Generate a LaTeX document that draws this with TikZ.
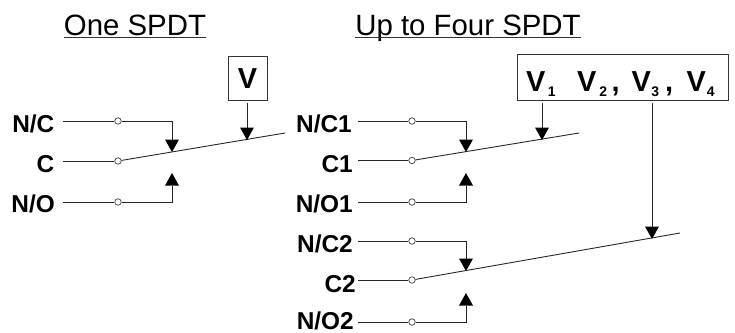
\documentclass[tikz,border=0pt]{standalone}
\usepackage{fontspec}
\setmainfont{Liberation Sans}
\usetikzlibrary{arrows.meta}
\tikzset{
  wire/.style={draw=black!85,line width=0.9bp},
  tip/.style={wire,-{Triangle[length=12.5bp,width=14bp,fill=black,line width=0pt]}},
  term/.style={circle,draw=black!75,fill=white,line width=0.7bp,minimum size=6.5bp,inner sep=0pt},
  lab/.style={anchor=base east,inner sep=0pt,font=\fontsize{24.5}{25}\selectfont\bfseries},
  ttl/.style={anchor=base,inner sep=0pt,font=\fontsize{29.5}{30}\selectfont},
  uline/.style={draw=black!80,line width=1.4bp},
  vbox/.style={draw=black!80,line width=0.9bp,inner sep=0pt},
  vtext/.style={inner sep=0pt,anchor=base west,font=\fontsize{29}{29}\selectfont\bfseries}
}
\newcommand{\subd}[1]{\raisebox{-5.5bp}{\fontsize{14}{14}\selectfont\bfseries #1}}
\begin{document}
\begin{tikzpicture}[x=1bp,y=-1bp]
\useasboundingbox (0,0) rectangle (735,332);
% titles
\node[ttl] (t1) at (135,35.5) {One SPDT};
\node[ttl] (t2) at (468,35.5) {Up to Four SPDT};
\draw[uline] ([yshift=-2.2bp]t1.base west) -- ([yshift=-2.2bp]t1.base east);
\draw[uline] ([yshift=-2.2bp]t2.base west) -- ([yshift=-2.2bp]t2.base east);
% left switch
\node[vbox,minimum width=39bp,minimum height=44bp] (v) at (247.5,78) {};
\node[vtext,anchor=base] (vl) at (247.5,88) {V};
\node[lab] (nc) at (54.5,132) {N/C};
\node[lab] (c) at (54.5,172) {C};
\node[lab] (no) at (55,212) {N/O};
\coordinate (ncs) at (63,121);
\coordinate (cs) at (63,161);
\coordinate (nos) at (63,202);
\node[term] (tnc) at (118,121) {};
\node[term] (tc) at (118,161) {};
\node[term] (tno) at (118,202) {};
\coordinate (ncc) at (172,121);
\coordinate (ncp) at (172,152);
\coordinate (noc) at (172,202);
\coordinate (nop) at (172,173);
\coordinate (lend) at (285,133);
\coordinate (vs) at (247,103);
\coordinate (vp) at (247,140);
\draw[wire] (ncs) -- (tnc);
\draw[wire] (cs) -- (tc);
\draw[wire] (nos) -- (tno);
\draw[tip] (tnc) -- (ncc) -- (ncp);
\draw[tip] (tno) -- (noc) -- (nop);
\draw[wire] (tc) -- (lend);
\draw[tip] (vs) -- (vp);
% right box
\node[vbox,minimum width=210.5bp,minimum height=46bp] (vv) at (622.7,77) {};
\node[vtext] (v1) at (526,91) {V\hspace{2.5bp}\subd{1}};
\node[vtext] (v2) at (577,91) {V\hspace{3bp}\subd{2}\hspace{4.5bp},};
\node[vtext] (v3) at (631.5,91) {V\hspace{0.5bp}\subd{3}\hspace{6bp},};
\node[vtext] (v4) at (686.5,91) {V\hspace{1bp}\subd{4}};
% switch 1
\node[lab] (nc1) at (352,132) {N/C1};
\node[lab] (c1) at (353,172) {C1};
\node[lab] (no1) at (353,212) {N/O1};
\coordinate (nc1s) at (358,121);
\coordinate (c1s) at (358,160.5);
\coordinate (no1s) at (358,202);
\node[term] (tnc1) at (412,121) {};
\node[term] (tc1) at (412,160.5) {};
\node[term] (tno1) at (412,202) {};
\coordinate (nc1c) at (466,121);
\coordinate (nc1p) at (466,152);
\coordinate (no1c) at (466,202);
\coordinate (no1p) at (466,173);
\coordinate (l1end) at (579,133);
\coordinate (v1s) at (542,103);
\coordinate (v1p) at (542,140);
\draw[wire] (nc1s) -- (tnc1);
\draw[wire] (c1s) -- (tc1);
\draw[wire] (no1s) -- (tno1);
\draw[tip] (tnc1) -- (nc1c) -- (nc1p);
\draw[tip] (tno1) -- (no1c) -- (no1p);
\draw[wire] (tc1) -- (l1end);
\draw[tip] (v1s) -- (v1p);
% switch 2
\node[lab] (nc2) at (353,252) {N/C2};
\node[lab] (c2) at (356,292) {C2};
\node[lab] (no2) at (354,329) {N/O2};
\coordinate (nc2s) at (358,241);
\coordinate (c2s) at (358,280);
\coordinate (no2s) at (358,322);
\node[term] (tnc2) at (412,241) {};
\node[term] (tc2) at (412,280) {};
\node[term] (tno2) at (412,322) {};
\coordinate (nc2c) at (466,241);
\coordinate (nc2p) at (466,271);
\coordinate (no2c) at (466,322);
\coordinate (no2p) at (466,293);
\coordinate (l2end) at (680,233);
\coordinate (v3s) at (652,103);
\coordinate (v3p) at (652,239);
\draw[wire] (nc2s) -- (tnc2);
\draw[wire] (c2s) -- (tc2);
\draw[wire] (no2s) -- (tno2);
\draw[tip] (tnc2) -- (nc2c) -- (nc2p);
\draw[tip] (tno2) -- (no2c) -- (no2p);
\draw[wire] (tc2) -- (l2end);
\draw[tip] (v3s) -- (v3p);
\end{tikzpicture}
\end{document}
